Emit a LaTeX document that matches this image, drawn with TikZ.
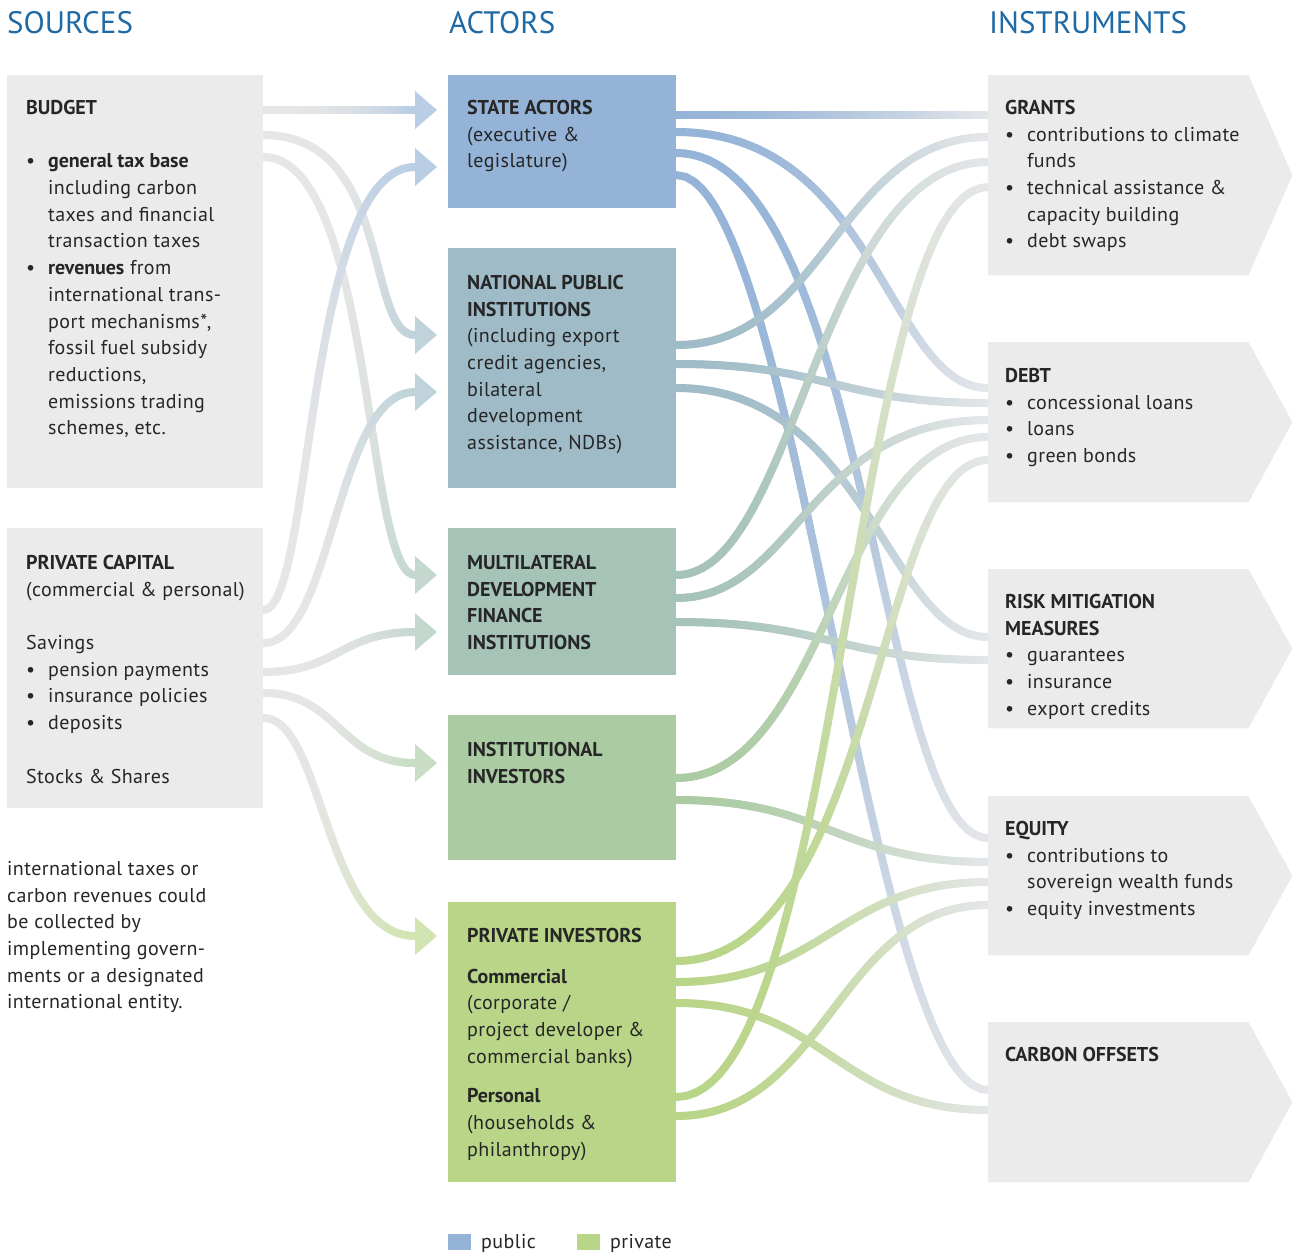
\documentclass[tikz,border=0pt]{standalone}
\usepackage{fontspec}
\setmainfont{PT Sans}[LetterSpace=2, BoldFeatures={LetterSpace=-0.4}]
\newfontfamily\titlefont{PT Sans}[LetterSpace=0]
\usetikzlibrary{decorations.markings,calc}
\pgfdeclarelayer{bg}
\pgfsetlayers{bg,main}
\definecolor{gbox}{HTML}{EBEBEB}
\definecolor{statec}{HTML}{94B3D7}
\definecolor{npic}{HTML}{9EBBC7}
\definecolor{mdfic}{HTML}{A6C3B7}
\definecolor{instc}{HTML}{ABCBA3}
\definecolor{privc}{HTML}{B9D588}
\definecolor{titlec}{HTML}{1F6AA5}
\definecolor{txtc}{HTML}{262626}
\definecolor{fadeR}{HTML}{E4E6E9}
\definecolor{fadeL}{HTML}{E6E6E6}
\newcommand\blt{\makebox[22pt][l]{\textbullet}}
\newcommand\ind{\hspace*{22pt}}
% gradient connector: #1 start, #2 end, #3 k1, #4 k2, #5 start colour, #6 end colour, #7 exponent
\newcommand\flow[7]{%
  \path[decorate,decoration={markings,mark=between positions 0 and 1 step 0.01 with {\coordinate (fp\pgfkeysvalueof{/pgf/decoration/mark info/sequence number});}}]
    (#1) .. controls +(#3,0) and +(-#4,0) .. (#2);
  \foreach \i in {1,...,99}{%
    \pgfmathtruncatemacro\j{\i+1}%
    \pgfmathtruncatemacro\pc{round(100*((\i-0.5)/100)^#7)}%
    \draw[flowline,color=#6!\pc!#5] (fp\i) -- (fp\j);
  }%
  \pgfmathtruncatemacro\pc{round(100*(99.5/100)^#7)}%
  \draw[flowline,color=#6!\pc!#5] (fp100) -- (#2);
}
% actor -> instrument
\newcommand\rflow[7]{%
  \coordinate (rA) at (#1.east |- 0,#2);
  \coordinate (rB) at (#3.west |- 0,#4);
  \flow{rA}{rB}{#5}{#6}{#7}{fadeR}{1.5}%
}
% source -> actor (with arrow head)
\newcommand\lflow[7]{%
  \coordinate (lA) at (#1.east |- 0,#2);
  \coordinate (lB) at ($(#3.west |- 0,#4)+(-33,0)$);
  \flow{lA}{lB}{#5}{#6}{fadeL}{#7!65!white}{2.5}%
  \fill[#7!65!white] ($(lB)+(0,-19)$) -- ($(lB)+(22,0)$) -- ($(lB)+(0,19)$) -- cycle;
}
\tikzset{
  flowline/.style={line width=8pt, line cap=round},
  boxnode/.style={anchor=north west, inner sep=0pt, draw=none},
  txt/.style={anchor=north west, inner sep=0pt, align=left, text=txtc,
    font=\fontsize{20}{26.7}\selectfont},
  ttl/.style={anchor=north west, inner sep=0pt, text=titlec,
    font=\titlefont\fontsize{31}{36}\selectfont},
}
\begin{document}
\begin{tikzpicture}[x=1pt,y=-1pt]
\useasboundingbox (0,0) rectangle (1293,1254);

% titles
\node[ttl] (tsrc) at (7,11) {SOURCES};
\node[ttl] (tact) at (449,11) {ACTORS};
\node[ttl] (tins) at (989,11) {INSTRUMENTS};

% source boxes
\node[boxnode, fill=gbox, minimum width=256pt, minimum height=413pt] (budget) at (7,75) {};
\node[boxnode, fill=gbox, minimum width=256pt, minimum height=280pt] (pcap) at (7,528) {};

% actor boxes
\node[boxnode, fill=statec, minimum width=228pt, minimum height=133pt] (state) at (448,75) {};
\node[boxnode, fill=npic, minimum width=228pt, minimum height=240pt] (npi) at (448,248) {};
\node[boxnode, fill=mdfic, minimum width=228pt, minimum height=147pt] (mdfi) at (448,528) {};
\node[boxnode, fill=instc, minimum width=228pt, minimum height=145pt] (inst) at (448,715) {};
\node[boxnode, fill=privc, minimum width=228pt, minimum height=280pt] (priv) at (448,902) {};

% instrument boxes (arrow shaped)
\node[boxnode, minimum width=260pt, minimum height=200pt] (grants) at (988,75) {};
\node[boxnode, minimum width=260pt, minimum height=160pt] (debt) at (988,342) {};
\node[boxnode, minimum width=260pt, minimum height=159pt] (risk) at (988,569) {};
\node[boxnode, minimum width=260pt, minimum height=159pt] (equity) at (988,796) {};
\node[boxnode, minimum width=260pt, minimum height=160pt] (carbon) at (988,1022) {};
\foreach \b in {grants,debt,risk,equity,carbon}{
  \fill[gbox] (\b.north west) -- (\b.north east) -- ($(\b.east)+(44,0)$) -- (\b.south east) -- (\b.south west) -- cycle;
}

\begin{pgfonlayer}{bg}
% actor -> instrument connectors
\rflow{state}{115}{grants}{115}{100}{100}{statec}
\rflow{state}{132}{debt}{388}{200}{100}{statec}
\rflow{state}{153}{equity}{838}{190}{110}{statec}
\rflow{state}{175}{carbon}{1090}{120}{120}{statec}
\rflow{npi}{345}{grants}{137}{150}{150}{npic}
\rflow{npi}{364}{debt}{403}{150}{150}{npic}
\rflow{npi}{388}{risk}{637}{190}{100}{npic}
\rflow{mdfi}{575}{grants}{162}{120}{170}{mdfic}
\rflow{mdfi}{598}{debt}{420}{120}{180}{mdfic}
\rflow{mdfi}{622}{risk}{660}{150}{150}{mdfic}
\rflow{inst}{778}{debt}{437}{150}{150}{instc}
\rflow{inst}{800}{equity}{862}{150}{150}{instc}
\rflow{priv}{961}{debt}{460}{200}{112}{privc}
\rflow{priv}{982}{equity}{882}{150}{150}{privc}
\rflow{priv}{1003}{carbon}{1110}{150}{150}{privc}
\rflow{priv}{1097}{grants}{187}{165}{138}{privc}
\rflow{priv}{1116}{equity}{905}{150}{150}{privc}
\end{pgfonlayer}

% source -> actor connectors
\begin{pgfonlayer}{bg}
\lflow{budget}{110}{state}{110}{50}{50}{statec}
\lflow{budget}{135}{npi}{335}{130}{50}{npic}
\lflow{budget}{157}{mdfi}{575}{110}{50}{mdfic}
\lflow{pcap}{610}{state}{167}{50}{110}{statec}
\lflow{pcap}{643}{npi}{392}{70}{80}{npic}
\lflow{pcap}{672}{mdfi}{632}{75}{75}{mdfic}
\lflow{pcap}{693}{inst}{763}{75}{75}{instc}
\lflow{pcap}{718}{priv}{936}{60}{90}{privc}
\end{pgfonlayer}

% texts: sources
\node[txt] (budgettxt) at (26,100) {\textbf{BUDGET}\\[26.7pt]
\blt\textbf{general tax base}\\
\ind including carbon\\
\ind taxes and financial\\
\ind transaction taxes\\
\blt\textbf{revenues} from\\
\ind international trans-\\
\ind port mechanisms*,\\
\ind fossil fuel subsidy\\
\ind reductions,\\
\ind emissions trading\\
\ind schemes, etc.};
\node[txt] (pcaptxt) at (26,555) {\textbf{PRIVATE CAPITAL}\\
(commercial \& personal)\\[26.7pt]
Savings\\
\blt pension payments\\
\blt insurance policies\\
\blt deposits\\[26.7pt]
Stocks \& Shares};
\node[txt] (foot) at (7,861) {international taxes or\\
carbon revenues could\\
be collected by\\
implementing govern-\\
ments or a designated\\
international entity.};

% texts: actors
\node[txt] (statetxt) at (467,100) {\textbf{STATE ACTORS}\\(executive \&\\legislature)};
\node[txt] (npitxt) at (467,275) {\textbf{NATIONAL PUBLIC}\\\textbf{INSTITUTIONS}\\(including export\\credit agencies,\\bilateral\\development\\assistance, NDBs)};
\node[txt] (mdfitxt) at (467,555) {\textbf{MULTILATERAL}\\\textbf{DEVELOPMENT}\\\textbf{FINANCE}\\\textbf{INSTITUTIONS}};
\node[txt] (insttxt) at (467,742) {\textbf{INSTITUTIONAL}\\\textbf{INVESTORS}};
\node[txt] (privtxt) at (467,928) {\textbf{PRIVATE INVESTORS}\\[14pt]
\textbf{Commercial}\\(corporate /\\project developer \&\\commercial banks)\\[13pt]
\textbf{Personal}\\(households \&\\philanthropy)};

% texts: instruments
\node[txt] (grantstxt) at (1005,100) {\textbf{GRANTS}\\
\blt contributions to climate\\
\ind funds\\
\blt technical assistance \&\\
\ind capacity building\\
\blt debt swaps};
\node[txt] (debttxt) at (1005,368) {\textbf{DEBT}\\
\blt concessional loans\\
\blt loans\\
\blt green bonds};
\node[txt] (risktxt) at (1005,594) {\textbf{RISK MITIGATION}\\\textbf{MEASURES}\\
\blt guarantees\\
\blt insurance\\
\blt export credits};
\node[txt] (equitytxt) at (1005,821) {\textbf{EQUITY}\\
\blt contributions to\\
\ind sovereign wealth funds\\
\blt equity investments};
\node[txt] (carbontxt) at (1005,1047) {\textbf{CARBON OFFSETS}};

% legend
\node[boxnode, fill=statec, minimum width=23pt, minimum height=16pt] (legpub) at (448,1234) {};
\node[txt, anchor=base west] (legpubt) at (481,1248) {public};
\node[boxnode, fill=privc, minimum width=23pt, minimum height=16pt] (legpriv) at (577,1234) {};
\node[txt, anchor=base west] (legprivt) at (610,1248) {private};
\end{tikzpicture}
\end{document}
